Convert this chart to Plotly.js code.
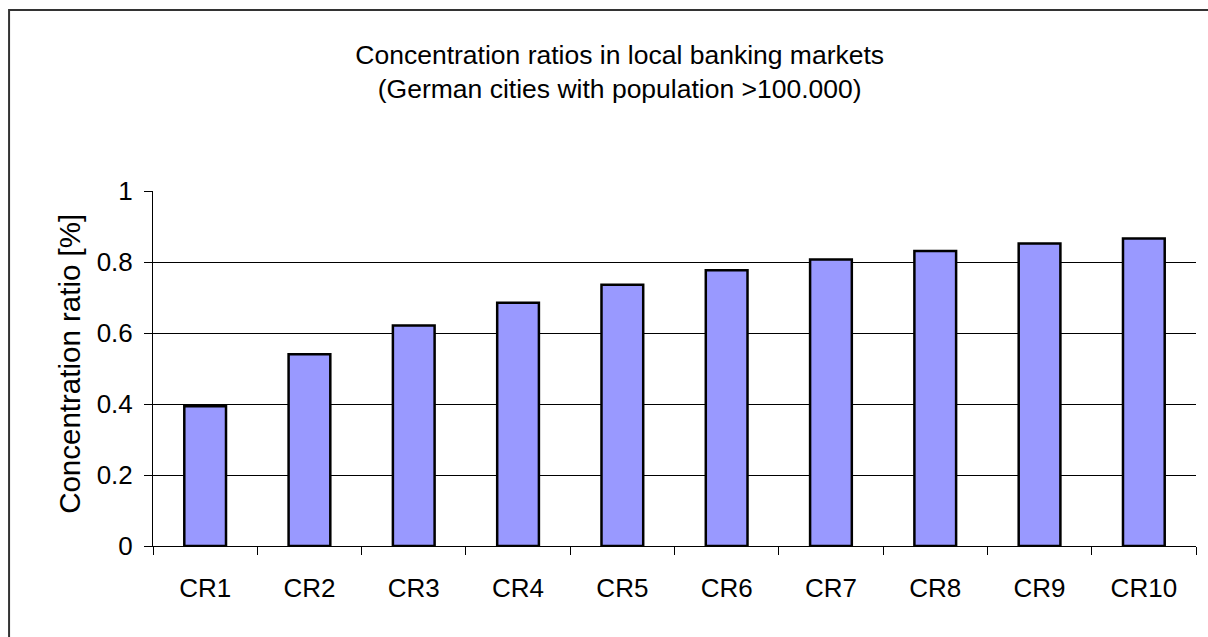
<!DOCTYPE html>
<html>
<head>
<meta charset="utf-8">
<script src="https://cdn.plot.ly/plotly-3.0.1.min.js"></script>
<style>
  html, body { margin: 0; padding: 0; background: #fff; }
  #chart { width: 1208px; height: 637px; }
</style>
</head>
<body>
<div id="chart"></div>
<script>
const categories = ["CR1", "CR2", "CR3", "CR4", "CR5", "CR6", "CR7", "CR8", "CR9", "CR10"];
const ratios = [0.394, 0.540, 0.621, 0.685, 0.736, 0.777, 0.807, 0.831, 0.852, 0.866];
const yTickValues = [0, 0.2, 0.4, 0.6, 0.8, 1];
const yTickLabels = ["0", "0.2", "0.4", "0.6", "0.8", "1"];
const titleText = "Concentration ratios in local banking markets<br>(German cities with population >100.000)";
const yTitleText = "Concentration ratio [%]";

const FONT = "Liberation Sans, Arial, Helvetica, sans-serif";

const trace = {
  type: "bar",
  x: categories,
  y: ratios,
  marker: { color: "#9999FF", line: { color: "#000000", width: 2.5 } },
  hoverinfo: "x+y"
};

const layout = {
  width: 1208,
  height: 637,
  margin: { l: 153, r: 12, t: 191, b: 91, pad: 0 },
  paper_bgcolor: "#ffffff",
  plot_bgcolor: "#ffffff",
  font: { family: FONT, color: "#000000", size: 26 },
  showlegend: false,
  bargap: 0.6,
  title: {
    text: titleText,
    font: { family: FONT, size: 26.5, color: "#000000" },
    xref: "container", x: 0.513, xanchor: "center",
    yref: "container", y: 0.9, yanchor: "middle"
  },
  xaxis: {
    type: "category",
    tickson: "boundaries",
    ticks: "outside",
    ticklen: 8,
    tickcolor: "#000000",
    tickwidth: 1,
    showline: true,
    linecolor: "#000000",
    linewidth: 1,
    showgrid: false,
    ticklabelstandoff: 19,
    tickfont: { family: FONT, size: 26, color: "#000000" },
    automargin: false
  },
  yaxis: {
    range: [0, 1],
    tickvals: yTickValues,
    ticktext: yTickLabels,
    ticks: "outside",
    ticklen: 8,
    tickcolor: "#000000",
    tickwidth: 1,
    showline: true,
    linecolor: "#000000",
    linewidth: 1,
    showgrid: true,
    gridcolor: "#000000",
    gridwidth: 1,
    zeroline: false,
    ticklabelstandoff: 6,
    tickfont: { family: FONT, size: 26, color: "#000000" },
    automargin: false
  },
  annotations: [{
    text: yTitleText,
    xref: "paper", yref: "paper",
    x: -0.0796, y: 0.513,
    xanchor: "center", yanchor: "middle",
    textangle: -90,
    showarrow: false,
    font: { family: FONT, size: 29.5, color: "#000000" }
  }],
  shapes: [{
    type: "rect",
    xref: "paper", yref: "paper",
    x0: -0.138, x1: 1.2, y0: -0.6, y1: 1.51,
    line: { color: "#333333", width: 2 },
    fillcolor: "rgba(0,0,0,0)",
    layer: "below"
  }]
};

Plotly.newPlot("chart", [trace], layout, { displayModeBar: false, staticPlot: true });
</script>
</body>
</html>
